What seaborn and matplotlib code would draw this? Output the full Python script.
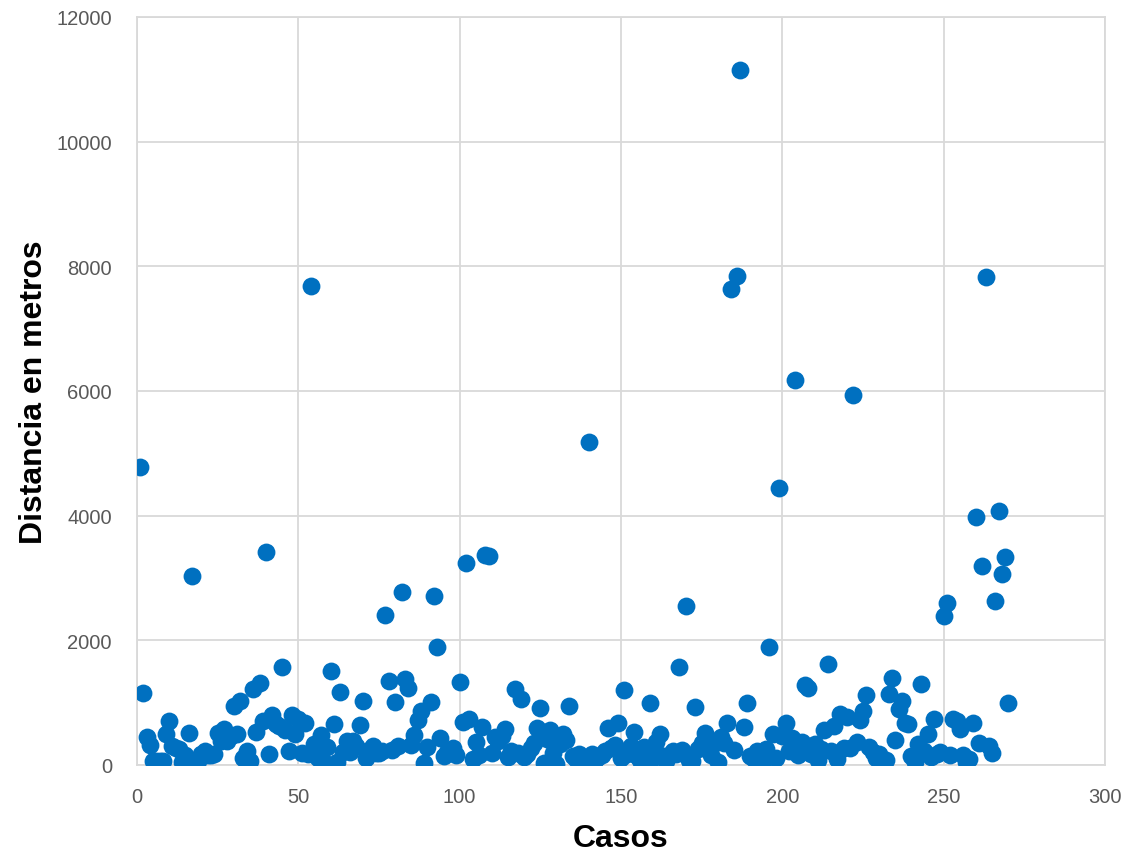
import seaborn as sns
import numpy as np
import pandas as pd
import matplotlib.pyplot as plt

# distances per case (metres)
distancia = [
    4780, 1150, 450, 320, 60, 60, 60, 60, 490, 700,
    300, 270, 250, 50, 160, 510, 3040, 60, 60, 180,
    220, 160, 160, 180, 510, 380, 580, 380, 460, 950,
    500, 1020, 110, 220, 60, 1220, 530, 1310, 700, 3410,
    180, 800, 660, 620, 1580, 560, 220, 800, 500, 740,
    190, 670, 180, 7680, 340, 110, 480, 50, 290, 1510,
    650, 50, 1170, 210, 390, 210, 390, 300, 640, 1030,
    110, 240, 300, 190, 190, 230, 2400, 1340, 240, 1010,
    300, 2770, 1380, 1230, 320, 480, 720, 870, 30, 290,
    1010, 2710, 1890, 430, 140, 210, 210, 270, 160, 1330,
    690, 3240, 740, 100, 370, 160, 610, 3370, 3350, 190,
    450, 390, 460, 580, 130, 230, 1220, 190, 1060, 130,
    180, 270, 350, 590, 910, 30, 420, 560, 190, 20,
    340, 500, 400, 940, 140, 100, 180, 30, 100, 5180,
    180, 80, 130, 160, 220, 590, 270, 320, 670, 110,
    1200, 180, 300, 530, 140, 80, 290, 80, 1000, 110,
    370, 500, 140, 60, 160, 220, 180, 1570, 240, 2550,
    80, 60, 930, 260, 350, 510, 400, 160, 350, 50,
    450, 350, 670, 7630, 240, 7850, 11150, 610, 990, 140,
    110, 220, 100, 50, 260, 1900, 490, 110, 4440, 470,
    680, 220, 430, 6180, 160, 370, 1280, 1240, 180, 340,
    80, 260, 560, 1620, 220, 620, 100, 820, 270, 770,
    270, 5940, 370, 720, 870, 1120, 290, 210, 110, 180,
    50, 80, 1140, 1400, 400, 900, 1030, 670, 660, 140,
    50, 340, 1300, 220, 500, 130, 740, 180, 210, 2390,
    2600, 160, 740, 710, 580, 160, 50, 100, 670, 3980,
    350, 3190, 7830, 300, 190, 2630, 4080, 3070, 3340, 990,
]
casos = list(range(1, len(distancia) + 1))

df = pd.DataFrame({'Casos': casos, 'Distancia': distancia})

sns.set_style('white')
plt.rcParams['font.family'] = ['Liberation Sans', 'DejaVu Sans']

fig, ax = plt.subplots(figsize=(11.3, 8.53), dpi=100)
fig.subplots_adjust(left=0.1212, right=0.9779, top=0.9789, bottom=0.102)

sns.scatterplot(data=df, x='Casos', y='Distancia', ax=ax, color='#0070C0',
                s=165, edgecolor='#0070C0', linewidth=0, zorder=3)

ax.set_xlim(0, 300)
ax.set_ylim(0, 12000)
ax.set_xticks(range(0, 301, 50))
ax.set_yticks(range(0, 12001, 2000))
ax.grid(True, color='#D9D9D9', linewidth=1.3)
ax.set_axisbelow(True)
for sp in ax.spines.values():
    sp.set_color('#D9D9D9')
    sp.set_linewidth(1.3)
ax.tick_params(length=0, labelsize=14.5, labelcolor='#595959')
ax.tick_params(axis='y', pad=18)
ax.tick_params(axis='x', pad=16)

ax.set_xlabel('Casos', fontsize=23, fontweight='bold', color='black', labelpad=12)
ax.set_ylabel('Distancia en metros', fontsize=23, fontweight='bold', color='black', labelpad=5)

fig.savefig('out.png', dpi=100)
